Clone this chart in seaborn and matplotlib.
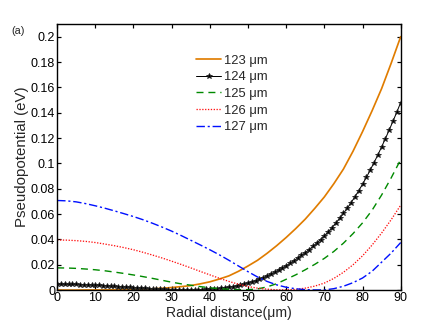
import numpy as np
import pandas as pd
import matplotlib
matplotlib.use('Agg')
import matplotlib.pyplot as plt
from matplotlib.ticker import FuncFormatter
import seaborn as sns

# radial grid (um) for the smooth curves, and the finer grid of the marked 124 um curve
r_coarse = [0, 2.5, 5, 7.5, 10, 12.5, 15, 17.5, 20, 22.5, 25, 27.5, 30, 32.5, 35, 37.5,
            40, 42.5, 45, 47.5, 50, 52.5, 55, 57.5, 60, 62.5, 65, 67.5, 70, 72.5, 75,
            77.5, 80, 82.5, 85, 87.5, 90]
r_fine = list(range(0, 91))

# pseudopotential (eV)
pot_123 = [0.0, 0.0, 0.0, 0.0001, 0.0001, 0.0001, 0.0002, 0.0003, 0.0005, 0.0007,
           0.001, 0.0014, 0.002, 0.0027, 0.0035, 0.0049, 0.0065, 0.0087, 0.0112, 0.0148,
           0.019, 0.0235, 0.029, 0.035, 0.0415, 0.0485, 0.056, 0.0645, 0.0735, 0.084,
           0.0955, 0.1095, 0.125, 0.1415, 0.159, 0.179, 0.2]
pot_124 = [0.0045, 0.0045, 0.0045, 0.0045, 0.0044, 0.0044, 0.0043, 0.0042, 0.0041, 0.0040,
           0.0038, 0.0037, 0.0035, 0.0033, 0.0031, 0.0029, 0.0027, 0.0025, 0.0023, 0.0021,
           0.0019, 0.0017, 0.0015, 0.0013, 0.0011, 0.0009, 0.0008, 0.0006, 0.0005, 0.0004,
           0.0003, 0.0002, 0.0001, 0.0001, 0.0000, 0.0000, 0.0001, 0.0002, 0.0003, 0.0005,
           0.0007, 0.0009, 0.0012, 0.0015, 0.0019, 0.0023, 0.0027, 0.0033, 0.0039, 0.0046,
           0.0055, 0.0064, 0.0074, 0.0086, 0.0098, 0.0112, 0.0126, 0.0141, 0.0157, 0.0174,
           0.0192, 0.0211, 0.0231, 0.0252, 0.0273, 0.0295, 0.0319, 0.0344, 0.0371, 0.0399,
           0.0428, 0.0459, 0.0493, 0.0529, 0.0566, 0.0605, 0.0646, 0.0690, 0.0736, 0.0784,
           0.0835, 0.0889, 0.0946, 0.1005, 0.1066, 0.1130, 0.1196, 0.1264, 0.1334, 0.1406,
           0.148]
pot_125 = [0.0175, 0.0174, 0.0171, 0.0166, 0.016, 0.0152, 0.0142, 0.0131, 0.0119, 0.0106,
           0.0092, 0.0077, 0.0062, 0.0049, 0.0038, 0.0027, 0.0018, 0.0011, 0.0006, 0.0003,
           0.0003, 0.0009, 0.0025, 0.005, 0.0085, 0.012, 0.016, 0.0203, 0.025, 0.0305,
           0.037, 0.0445, 0.053, 0.063, 0.075, 0.0885, 0.103]
pot_126 = [0.0395, 0.0394, 0.039, 0.0384, 0.0375, 0.0363, 0.035, 0.0335, 0.0318, 0.0298,
           0.0276, 0.0253, 0.0228, 0.0202, 0.0175, 0.0147, 0.012, 0.0093, 0.0068, 0.0046,
           0.0028, 0.0015, 0.0007, 0.0002, 0.0001, 0.0005, 0.0015, 0.0031, 0.0055, 0.0092,
           0.014, 0.0199, 0.027, 0.0355, 0.045, 0.0555, 0.067]
pot_127 = [0.0707, 0.0704, 0.0696, 0.0682, 0.0665, 0.0646, 0.0625, 0.0603, 0.058, 0.0555,
           0.0527, 0.0497, 0.0465, 0.043, 0.0393, 0.0356, 0.0318, 0.0278, 0.0235, 0.019,
           0.0145, 0.0103, 0.0068, 0.0041, 0.0022, 0.001, 0.0003, 0.0001, 0.0001, 0.0011,
           0.003, 0.0058, 0.0095, 0.0148, 0.022, 0.0292, 0.0375]

labels = ['123 \u03bcm', '124 \u03bcm', '125 \u03bcm', '126 \u03bcm', '127 \u03bcm']

sns.set_style('ticks')
plt.rcParams['font.family'] = ['Liberation Sans', 'DejaVu Sans']

fig, ax = plt.subplots(figsize=(443 / 72, 327 / 72), dpi=72)
fig.subplots_adjust(left=0.129, right=0.9045, bottom=0.113, top=0.9266)

# one call per curve, MATLAB-like colours and line styles
sns.lineplot(x=r_coarse, y=pot_123, color='#e07c00', lw=1.7, label=labels[0], ax=ax)
sns.lineplot(x=r_fine, y=pot_124, color='black', lw=1.0, marker='*', markersize=5.5,
             markeredgewidth=0.8, markeredgecolor='#222222', markerfacecolor='black',
             label=labels[1], ax=ax)
sns.lineplot(x=r_coarse, y=pot_125, color='#008a00', lw=1.4, linestyle=(0, (5, 3.5)),
             label=labels[2], ax=ax)
sns.lineplot(x=r_coarse, y=pot_126, color='#ff1010', lw=1.3, linestyle=(0, (1, 1.2)),
             label=labels[3], ax=ax)
sns.lineplot(x=r_coarse, y=pot_127, color='#0010ff', lw=1.4, linestyle=(0, (6, 2, 1.5, 2)),
             label=labels[4], ax=ax)

ax.set_xlim(0, 90)
ax.set_ylim(0, 0.21)
ax.set_xticks(np.arange(0, 91, 10))
ax.set_yticks(np.arange(0, 0.201, 0.02))
ax.yaxis.set_major_formatter(FuncFormatter(lambda v, p: f'{round(v, 2):g}'))

ax.tick_params(direction='in', top=True, right=True, length=4, width=1.2,
               labelsize=12.5, pad=2, colors='black')
for s in ax.spines.values():
    s.set_linewidth(1.4)
    s.set_color('black')

ax.set_xlabel('Radial distance(\u03bcm)', fontsize=14, labelpad=1.5)
ax.set_ylabel('Pseudopotential (eV)', fontsize=15, labelpad=2)

ax.legend(frameon=False, loc='upper left', bbox_to_anchor=(0.39, 0.905), fontsize=13,
          handlelength=1.9, handletextpad=0.2, labelspacing=0.35, borderaxespad=0)

fig.text(11 / 443, 1 - 31 / 327, '(a)', fontsize=11, va='center')

plt.savefig('out.png', dpi=72)
